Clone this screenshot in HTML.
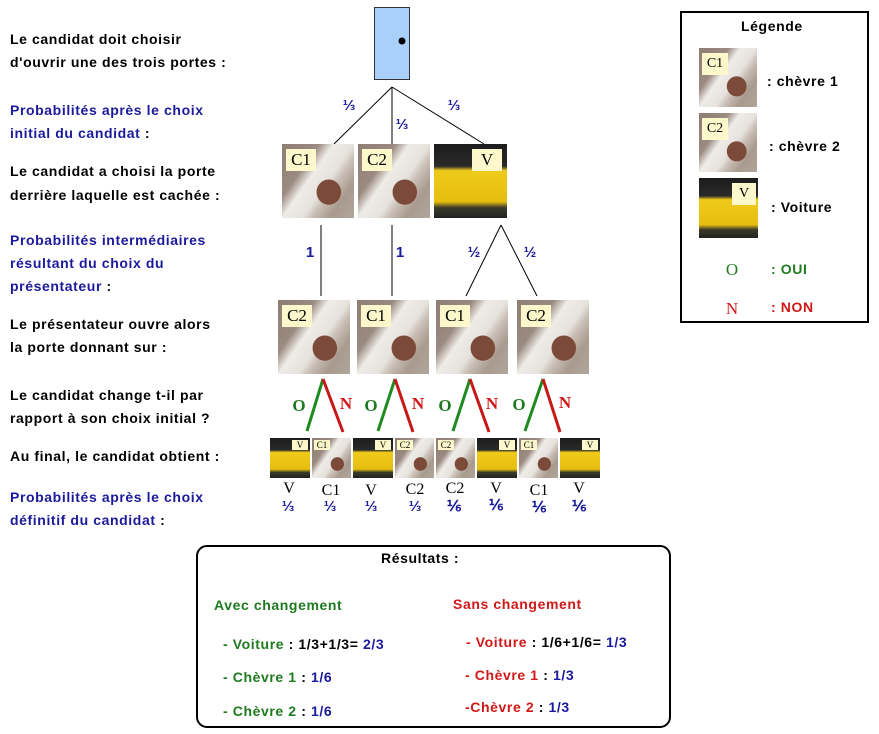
<!DOCTYPE html>
<html><head><meta charset="utf-8"><style>
body{margin:0;width:879px;height:734px;background:#fff;position:relative;overflow:hidden;font-family:"Liberation Sans",sans-serif}
.t{position:absolute;font-weight:bold;font-size:14px;letter-spacing:0.6px;white-space:nowrap;line-height:23px}
.b{color:#1a1a9c}.g{color:#1f7a1f}.r{color:#d01818}
.im{position:absolute;overflow:hidden}
.goat{background:radial-gradient(ellipse at 65% 65%,#7b4a38 0 18%,transparent 19%),linear-gradient(125deg,#8e7d72 0%,#9a8a80 30%,#efece8 42%,#e6e2dd 58%,#c9bfb6 66%,#a99a8e 80%,#b0a69c 100%)}
.car{background:linear-gradient(180deg,#1c1c1c 0%,#2a2a2a 30%,#f0cb1a 36%,#e6bd10 78%,#3a3a2a 86%,#222 100%)}
.lb{position:absolute;background:#fcf8cc;font-family:"Liberation Serif",serif;color:#000;text-align:center}
.big .lb{top:5px;width:30px;height:22px;font-size:17px;line-height:22px}
.sm .lb{top:2px;width:16px;height:10px;font-size:9px;line-height:10px}
.f{position:absolute;font-family:"Liberation Serif",serif;font-size:15px;text-align:center;width:30px}
.p{position:absolute;font-weight:bold;font-size:15px;color:#1a1a9c;text-align:center;width:30px}
</style></head><body>
<svg width="879" height="734" style="position:absolute;left:0;top:0">
<rect x="374.5" y="7.5" width="35" height="72" fill="#a8d0f8" stroke="#333"/>
<circle cx="402" cy="41" r="3.5" fill="#000"/>
<g stroke="#000" stroke-width="1">
<line x1="392" y1="87" x2="334" y2="144"/><line x1="392" y1="87" x2="392" y2="144"/><line x1="392" y1="87" x2="484" y2="144"/>
<line x1="321" y1="225" x2="321" y2="296"/><line x1="392" y1="225" x2="392" y2="296"/>
<line x1="501" y1="225" x2="466" y2="296"/><line x1="501" y1="225" x2="537" y2="296"/>
</g>
<g stroke-width="3">
<line x1="323" y1="379" x2="307" y2="431" stroke="#1f8a1f"/><line x1="323" y1="379" x2="343" y2="432" stroke="#c81818"/>
<line x1="395" y1="379" x2="378" y2="431" stroke="#1f8a1f"/><line x1="395" y1="379" x2="413" y2="432" stroke="#c81818"/>
<line x1="470" y1="379" x2="453" y2="431" stroke="#1f8a1f"/><line x1="470" y1="379" x2="489" y2="432" stroke="#c81818"/>
<line x1="543" y1="379" x2="525" y2="431" stroke="#1f8a1f"/><line x1="543" y1="379" x2="560" y2="432" stroke="#c81818"/>
</g>
<rect x="681" y="12" width="187" height="310" fill="none" stroke="#000" stroke-width="2"/>
<rect x="197" y="546" width="473" height="181" rx="10" fill="none" stroke="#000" stroke-width="2"/>
</svg>

<div class="t" style="left:10px;top:28px">Le candidat doit choisir</div>
<div class="t" style="left:10px;top:51px">d'ouvrir une des trois portes :</div>
<div class="t b" style="left:10px;top:99px">Probabilités après le choix</div>
<div class="t b" style="left:10px;top:122px">initial du candidat <span style="color:#000">:</span></div>
<div class="t" style="left:10px;top:160px">Le candidat a choisi la porte</div>
<div class="t" style="left:10px;top:184px">derrière laquelle est cachée :</div>
<div class="t b" style="left:10px;top:229px">Probabilités intermédiaires</div>
<div class="t b" style="left:10px;top:252px">résultant du choix du</div>
<div class="t b" style="left:10px;top:275px">présentateur <span style="color:#000">:</span></div>
<div class="t" style="left:10px;top:313px">Le présentateur ouvre alors</div>
<div class="t" style="left:10px;top:336px">la porte donnant sur :</div>
<div class="t" style="left:10px;top:384px">Le candidat change t-il par</div>
<div class="t" style="left:10px;top:407px">rapport à son choix initial ?</div>
<div class="t" style="left:10px;top:445px">Au final, le candidat obtient :</div>
<div class="t b" style="left:10px;top:486px">Probabilités après le choix</div>
<div class="t b" style="left:10px;top:509px">définitif du candidat <span style="color:#000">:</span></div>

<div class="p" style="left:334px;top:97px">⅓</div>
<div class="p" style="left:387px;top:116px">⅓</div>
<div class="p" style="left:439px;top:97px">⅓</div>
<div class="p" style="left:295px;top:244px">1</div>
<div class="p" style="left:385px;top:244px">1</div>
<div class="p" style="left:459px;top:244px">½</div>
<div class="p" style="left:515px;top:244px">½</div>

<div class="im goat big" style="left:282px;top:144px;width:72px;height:74px"><div class="lb" style="left:4px">C1</div></div>
<div class="im goat big" style="left:358px;top:144px;width:72px;height:74px"><div class="lb" style="left:4px">C2</div></div>
<div class="im car big" style="left:434px;top:144px;width:73px;height:74px"><div class="lb" style="left:38px">V</div></div>
<div class="im goat big" style="left:278px;top:300px;width:72px;height:74px"><div class="lb" style="left:4px">C2</div></div>
<div class="im goat big" style="left:357px;top:300px;width:72px;height:74px"><div class="lb" style="left:4px">C1</div></div>
<div class="im goat big" style="left:436px;top:300px;width:72px;height:74px"><div class="lb" style="left:4px">C1</div></div>
<div class="im goat big" style="left:517px;top:300px;width:72px;height:74px"><div class="lb" style="left:4px">C2</div></div>

<div class="f g" style="left:284px;top:396px;font-size:17px;font-weight:bold">O</div>
<div class="f r" style="left:331px;top:394px;font-size:17px;font-weight:bold">N</div>
<div class="f g" style="left:356px;top:396px;font-size:17px;font-weight:bold">O</div>
<div class="f r" style="left:403px;top:394px;font-size:17px;font-weight:bold">N</div>
<div class="f g" style="left:430px;top:396px;font-size:17px;font-weight:bold">O</div>
<div class="f r" style="left:477px;top:394px;font-size:17px;font-weight:bold">N</div>
<div class="f g" style="left:504px;top:395px;font-size:17px;font-weight:bold">O</div>
<div class="f r" style="left:550px;top:393px;font-size:17px;font-weight:bold">N</div>

<div class="im car sm" style="left:270px;top:438px;width:40px;height:40px"><div class="lb" style="left:22px">V</div></div>
<div class="im goat sm" style="left:312px;top:438px;width:39px;height:40px"><div class="lb" style="left:2px">C1</div></div>
<div class="im car sm" style="left:353px;top:438px;width:40px;height:40px"><div class="lb" style="left:22px">V</div></div>
<div class="im goat sm" style="left:395px;top:438px;width:39px;height:40px"><div class="lb" style="left:2px">C2</div></div>
<div class="im goat sm" style="left:436px;top:438px;width:39px;height:40px"><div class="lb" style="left:2px">C2</div></div>
<div class="im car sm" style="left:477px;top:438px;width:40px;height:40px"><div class="lb" style="left:22px">V</div></div>
<div class="im goat sm" style="left:519px;top:438px;width:39px;height:40px"><div class="lb" style="left:2px">C1</div></div>
<div class="im car sm" style="left:560px;top:438px;width:40px;height:40px"><div class="lb" style="left:22px">V</div></div>

<div class="f" style="left:274px;top:480px;font-size:16px">V</div>
<div class="f" style="left:316px;top:482px;font-size:16px">C1</div>
<div class="f" style="left:356px;top:482px;font-size:16px">V</div>
<div class="f" style="left:400px;top:481px;font-size:16px">C2</div>
<div class="f" style="left:440px;top:480px;font-size:16px">C2</div>
<div class="f" style="left:481px;top:480px;font-size:16px">V</div>
<div class="f" style="left:524px;top:482px;font-size:16px">C1</div>
<div class="f" style="left:564px;top:480px;font-size:16px">V</div>
<div class="p" style="left:273px;top:498px">⅓</div>
<div class="p" style="left:315px;top:498px">⅓</div>
<div class="p" style="left:356px;top:498px">⅓</div>
<div class="p" style="left:400px;top:498px">⅓</div>
<div class="p" style="left:439px;top:497px">⅙</div>
<div class="p" style="left:481px;top:496px">⅙</div>
<div class="p" style="left:524px;top:498px">⅙</div>
<div class="p" style="left:564px;top:497px">⅙</div>

<div class="t" style="left:741px;top:15px">Légende</div>
<div class="im goat big" style="left:699px;top:48px;width:58px;height:59px"><div class="lb" style="left:3px;width:26px;font-size:14px">C1</div></div>
<div class="t" style="left:767px;top:70px">: chèvre 1</div>
<div class="im goat big" style="left:699px;top:113px;width:58px;height:59px"><div class="lb" style="left:3px;width:26px;font-size:14px">C2</div></div>
<div class="t" style="left:769px;top:135px">: chèvre 2</div>
<div class="im car big" style="left:699px;top:178px;width:59px;height:60px"><div class="lb" style="left:33px;width:24px;font-size:14px">V</div></div>
<div class="t" style="left:771px;top:196px">: Voiture</div>
<div class="f g" style="left:717px;top:260px;font-size:17px">O</div>
<div class="t g" style="left:771px;top:258px">: OUI</div>
<div class="f r" style="left:717px;top:299px;font-size:17px">N</div>
<div class="t r" style="left:771px;top:296px">: NON</div>

<div class="t" style="left:381px;top:547px">Résultats :</div>
<div class="t g" style="left:214px;top:594px">Avec changement</div>
<div class="t r" style="left:453px;top:593px">Sans changement</div>
<div class="t g" style="left:223px;top:633px">- Voiture <span style="color:#000">: 1/3+1/3= </span><span class="b">2/3</span></div>
<div class="t g" style="left:223px;top:666px">- Chèvre 1 <span style="color:#000">: </span><span class="b">1/6</span></div>
<div class="t g" style="left:223px;top:700px">- Chèvre 2 <span style="color:#000">: </span><span class="b">1/6</span></div>
<div class="t r" style="left:466px;top:631px">- Voiture <span style="color:#000">: 1/6+1/6= </span><span class="b">1/3</span></div>
<div class="t r" style="left:465px;top:664px">- Chèvre 1 <span style="color:#000">: </span><span class="b">1/3</span></div>
<div class="t r" style="left:465px;top:696px">-Chèvre 2 <span style="color:#000">: </span><span class="b">1/3</span></div>
</body></html>
